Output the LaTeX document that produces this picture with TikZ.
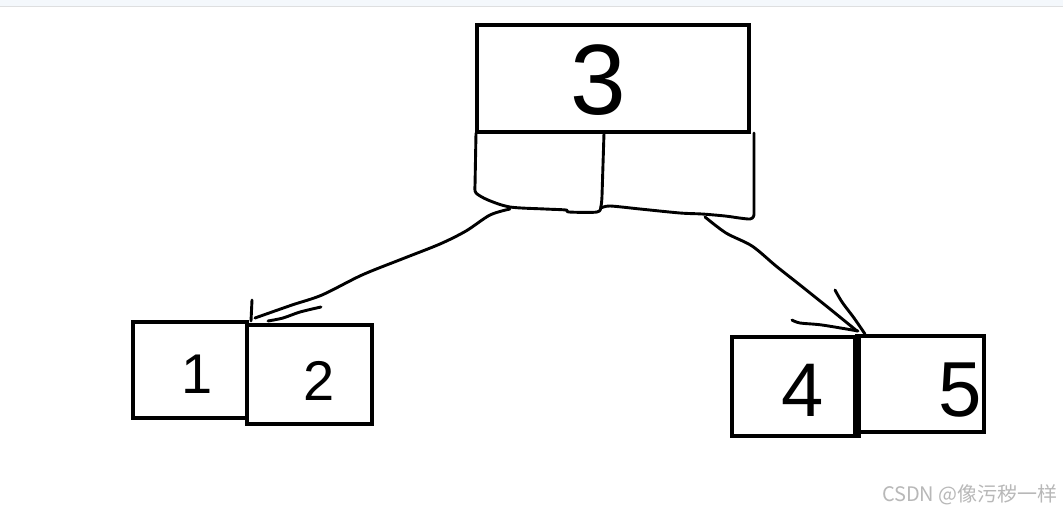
\documentclass[tikz,border=0pt]{standalone}
\usepackage{fontspec}
\setmainfont{Liberation Sans}
\newfontfamily\cjk{Noto Sans CJK SC}
\definecolor{bandc}{HTML}{F4F8FC}
\definecolor{bandline}{HTML}{DEDFE0}
\definecolor{wmark}{HTML}{B8B8B8}
\begin{document}
\begin{tikzpicture}[x=1pt,y=-1pt,
  box/.style={draw=black,line width=4.6pt,inner sep=0pt,fill=white},
  hand/.style={draw=black,line width=2.9pt,line cap=round,line join=round},
  digit/.style={inner sep=0pt,font=\fontsize{#1}{#1}\selectfont},
  wm/.style={inner sep=0pt,text=wmark,font=\cjk\fontsize{20}{20}\selectfont,anchor=east}]
\useasboundingbox (0,0) rectangle (1063,514);
\fill[white] (0,0) rectangle (1063,514);
\fill[bandc] (0,0) rectangle (1063,6);
\draw[bandline,line width=1pt] (0,6.5) -- (1063,6.5);
% lower cells of top node (hand drawn)
\coordinate (cl) at (476,133);
\coordinate (cm) at (604,133);
\coordinate (cr) at (754,133);
\draw[hand] (cl) -- (475,186) plot[smooth] coordinates {(475,186) (476,193) (488,200) (510,207) (545,209) (566,210) (569,212) (597,212) (601,206) (602,196)} -- (cm);
\draw[hand] plot[smooth] coordinates {(601,208) (610,206) (640,209) (680,213) (702,214) (725,216) (750,219) (754,214)} -- (cr);
% top node
\node[box,minimum width=272pt,minimum height=107pt] (top) at (613,78.5) {};
\node[digit=100] (t3) at (598,80) {3};
% children
\node[box,minimum width=114pt,minimum height=96pt] (b1) at (190,370) {};
\node[box,minimum width=125pt,minimum height=99pt] (b2) at (309.5,374.5) {};
\node[box,minimum width=125pt,minimum height=99pt] (b4) at (794.5,386.5) {};
\node[box,minimum width=127pt,minimum height=96pt] (b5) at (920.5,384) {};
\fill[black] (853,336) rectangle (861,438);
\node[digit=56] (t1) at (197,374) {1};
\node[digit=56] (t2) at (319,381) {2};
\node[digit=76] (t4) at (803,390) {4};
\node[digit=78] (t5) at (960,390) {5};
% connectors (hand drawn)
\coordinate (la) at (510,209);
\coordinate (lb) at (255,318);
\draw[hand] plot[smooth] coordinates {(la) (490,215) (466,231) (440,244) (402,259) (362,275) (322,295) (292,305) (lb)};
\coordinate (lc) at (321,307);
\coordinate (ld) at (268,321);
\draw[hand] plot[smooth] coordinates {(lc) (300,312) (283,318) (ld)};
\coordinate (le) at (252,300);
\coordinate (lf) at (251,321);
\draw[hand] (le) -- (lf);
\coordinate (ra) at (705,217);
\coordinate (rb) at (857,331);
\draw[hand] plot[smooth] coordinates {(ra) (726,233) (752,246) (776,266) (800,285) (830,309) (rb)};
\coordinate (rc) at (835,290);
\coordinate (rd) at (865,334);
\draw[hand] plot[smooth] coordinates {(rc) (842,302) (854,318) (rd)};
\coordinate (re) at (792,320);
\coordinate (rf) at (858,331);
\draw[hand] plot[smooth] coordinates {(re) (800,323) (822,325) (rf)};
% watermark
\node[wm] (wmk) at (1058,495) {CSDN @像污秽一样};
\end{tikzpicture}
\end{document}
